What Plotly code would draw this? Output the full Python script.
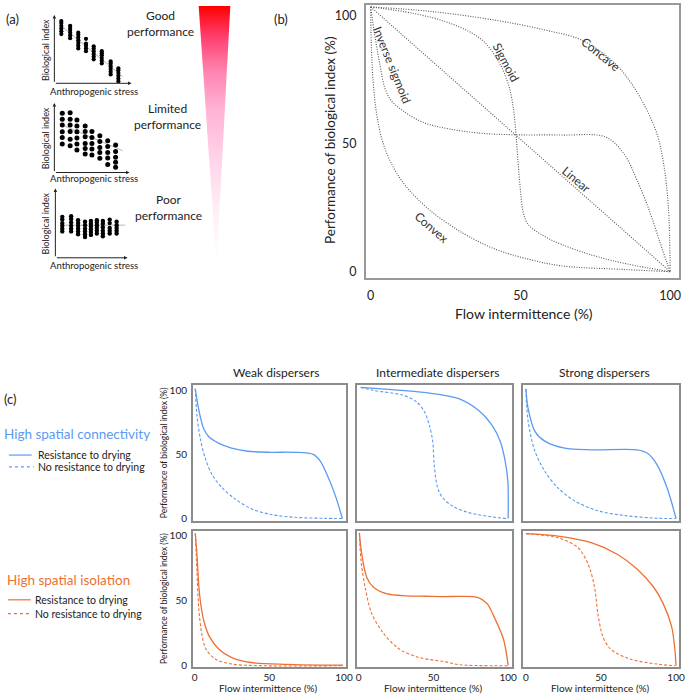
import plotly.graph_objects as go

W, H = 691, 698
FONT = "Lato, 'Open Sans', sans-serif"
BLUE = "#5b9bef"
ORANGE = "#ee7031"
GREY = "#555555"
FRAME = "#8c8c8c"

# ---------- (a) sketch scatter panels (axes units 0..1) ----------
good_cols = [0.09, 0.205, 0.31, 0.41, 0.51, 0.615, 0.73, 0.83]
good_vals = [
    [0.72, 0.76, 0.80, 0.84, 0.88, 0.91],
    [0.66, 0.70, 0.74, 0.78, 0.81, 0.84],
    [0.51, 0.55, 0.59, 0.63, 0.67, 0.71, 0.74],
    [0.47, 0.51, 0.55, 0.58, 0.65],
    [0.35, 0.39, 0.43, 0.47, 0.51, 0.54],
    [0.29, 0.33, 0.37, 0.41, 0.44, 0.47],
    [0.13, 0.17, 0.21, 0.25, 0.29, 0.32],
    [0.03, 0.07, 0.11, 0.15, 0.19, 0.22],
]
good_trend = ([0.09, 0.885], [0.84, 0.10])

limited_cols = [0.105, 0.21, 0.30, 0.41, 0.50, 0.605, 0.71, 0.815]
limited_vals = [
    [0.853, 0.767, 0.686, 0.586, 0.504, 0.41],
    [0.861, 0.767, 0.686, 0.59, 0.481, 0.386],
    [0.757, 0.671, 0.586, 0.496, 0.41, 0.324],
    [0.671, 0.59, 0.514, 0.419, 0.347, 0.267],
    [0.59, 0.504, 0.419, 0.339, 0.253],
    [0.529, 0.447, 0.361, 0.29, 0.204],
    [0.457, 0.376, 0.29, 0.21, 0.114],
    [0.396, 0.304, 0.219, 0.147, 0.076],
]
limited_trend = ([0.105, 0.91], [0.686, 0.314])

poor_cols = [0.096, 0.219, 0.315, 0.411, 0.493, 0.575, 0.658, 0.753, 0.849]
poor_vals = [
    [0.38, 0.42, 0.46, 0.50, 0.55, 0.59],
    [0.38, 0.42, 0.46, 0.51, 0.56, 0.60],
    [0.34, 0.38, 0.42, 0.46, 0.50, 0.54],
    [0.30, 0.34, 0.38, 0.42, 0.47, 0.52],
    [0.33, 0.37, 0.41, 0.45, 0.49, 0.53],
    [0.35, 0.39, 0.43, 0.47, 0.51, 0.54],
    [0.31, 0.35, 0.39, 0.44, 0.49, 0.53],
    [0.35, 0.39, 0.43, 0.50, 0.55],
    [0.35, 0.39, 0.43, 0.47, 0.52],
]
poor_trend = ([0.07, 0.97], [0.47, 0.47])

# gradient wedge
tri_x = [0.111, 0.822, 0.511, 0.111]
tri_y = [0.985, 0.985, 0.011, 0.985]
grad_scale = [[0, "#ffffff"], [0.2, "#fff0f7"], [0.4, "#ffd6ea"], [0.6, "#ffb3d6"],
              [0.75, "#ff85b0"], [0.88, "#ff4070"], [1, "#ff0000"]]

# ---------- (b) response shapes ----------
linear_x = [0, 100]
linear_y = [103.5, 0]
concave_x = [0, 19.6, 41.6, 58.1, 70.3, 80.2, 85.7, 91.2, 95.6, 97.8, 99.4, 100]
concave_y = [103.5, 101.8, 98.3, 94.5, 90.6, 82.9, 75.8, 65.5, 53.9, 42.3, 25.5, 0]
sigmoid_x = [0, 14.1, 25.1, 33.9, 38.3, 42.7, 46, 47.6, 48.5, 49.1, 49.9, 51, 52.6, 57, 63.6, 74.7, 85.6, 100]
sigmoid_y = [103.5, 101, 97.7, 93.2, 89.3, 82.2, 73.2, 64.2, 53.9, 44.8, 33.2, 22.9, 18.4, 14.5, 10.7, 6.2, 3, 0]
invsig_x = [0, 1.4, 3.1, 4.7, 6.9, 10.8, 17.4, 26.2, 37.2, 48.6, 63.7, 78.5, 84.6, 89, 93.4, 96.7, 98.9, 100]
invsig_y = [103.5, 92.3, 80.9, 71.9, 66.8, 62.9, 58.4, 55.8, 54.1, 53.5, 53.4, 52.6, 46, 35.6, 22.7, 11.1, 3.6, 0]
convex_x = [0, 0.3, 0.9, 2, 4.2, 7.5, 11.9, 19.6, 30.6, 41.6, 52.6, 63.6, 85.6, 100]
convex_y = [103.5, 86, 73.2, 61.6, 50, 41, 33.2, 24.2, 15.2, 8.8, 4.9, 2.3, 0.8, 0]

# ---------- (c) dispersal x connectivity ----------
weak_conn_res_x = [0.4, 2.6, 5.9, 9.3, 15.9, 24.7, 35.7, 51.1, 66.5, 79.7, 84.1, 88.5, 93, 96.3, 98.9]
weak_conn_res_y = [101.5, 85.9, 70.5, 64.1, 59, 55.1, 52.6, 51.8, 51.8, 50, 44.9, 34.6, 21.8, 10.3, 0]
weak_conn_nores_x = [0.4, 1.5, 3.7, 7, 11.5, 18.1, 26.9, 37.9, 51.1, 68.7, 86.3, 99.6]
weak_conn_nores_y = [101.5, 80.8, 62.8, 47.4, 34.6, 24.4, 15.4, 7.7, 3.1, 0.8, 0.2, 0]
inter_conn_res_x = [1.3, 20, 35, 45, 66.9, 80.1, 89.2, 94.7, 98, 99.8, 100]
inter_conn_res_y = [102.5, 101, 99.6, 98.4, 93.8, 84.7, 73.1, 60.4, 45, 29.5, 0]
inter_conn_nores_x = [1.3, 9.7, 29.6, 38.4, 43.9, 47.2, 49.5, 50.5, 52.8, 56.1, 62.7, 73.5, 89.2, 99.1]
inter_conn_nores_y = [102.5, 100.2, 96.4, 91.5, 83.7, 73.1, 60.4, 42.1, 24, 16.3, 9.8, 4.6, 1.3, 0]
strong_conn_res_x = [0, 1.5, 6.1, 12.6, 25.8, 43.3, 74.2, 81, 87.4, 94, 100]
strong_conn_res_y = [101.5, 86, 68, 60.5, 55, 53.7, 53.7, 51, 42, 24, 0]
strong_conn_nores_x = [0, 1.5, 6, 12.6, 21.3, 32.6, 48, 66, 88, 100]
strong_conn_nores_y = [101, 76, 52.7, 37, 24, 13.7, 6, 2.3, 0.2, 0]

weak_iso_res_x = [0.4, 1.5, 2.8, 4.3, 6.5, 9.7, 16.2, 24.8, 37.8, 61.6, 85.3, 99.4]
weak_iso_res_y = [102, 86, 60.8, 45.6, 32.9, 22.8, 12.7, 6.3, 2.5, 1, 0.5, 0.5]
weak_iso_nores_x = [0.4, 1.5, 2.8, 5, 7.6, 14, 24.8, 46.4, 99.4]
weak_iso_nores_y = [102, 73.4, 43, 22.8, 12.7, 5, 1.3, 0, 0]
inter_iso_res_x = [0.4, 2, 5.3, 9.7, 18.5, 31.8, 45, 58, 67, 80, 85.8, 91.4, 96.9, 100]
inter_iso_res_y = [102.3, 85.8, 68.2, 60.6, 55.5, 53.8, 53.5, 53.2, 53.4, 52.5, 48, 35.6, 20.4, 0.5]
inter_iso_nores_x = [0.4, 1.5, 4.2, 8.6, 16.3, 27.4, 40.6, 58, 67, 100]
inter_iso_nores_y = [102, 81, 60.6, 40.4, 25.3, 12.6, 6.3, 3, 0.8, 0]
strong_iso_res_x = [0, 21.5, 43.5, 60.8, 74, 85, 91.4, 97, 99, 100]
strong_iso_res_y = [101.7, 99.8, 94.7, 85.8, 74.5, 60.6, 48, 30.3, 15, 0]
strong_iso_nores_x = [0, 21.5, 34.7, 41.4, 45.7, 47.9, 51.2, 56.6, 69.8, 87.4, 99.5]
strong_iso_nores_y = [101.7, 98.5, 90.9, 78.3, 60.6, 40.4, 22.7, 12.6, 5, 1.3, 0]

col_titles = ["Weak dispersers", "Intermediate dispersers", "Strong dispersers"]
tick_vals = [0, 50, 100]


def xd(a, b):
    return [a / W, b / W]


def yd(top, bottom):
    return [1 - bottom / H, 1 - top / H]


def px(x, y):
    return x / W, 1 - y / H


fig = go.Figure()
layout_axes = {}


def ax_name(kind, i):
    return kind + "axis" + ("" if i == 1 else str(i))


def add_hidden(i, xdom, ydom, xr=(0, 1), yr=(0, 1)):
    layout_axes[ax_name("x", i)] = dict(domain=xdom, range=list(xr), visible=False, anchor="y" + str(i))
    layout_axes[ax_name("y", i)] = dict(domain=ydom, range=list(yr), visible=False, anchor="x" + str(i))


# (a) panels
panels_a = [
    (1, good_cols, good_vals, good_trend, xd(54, 132), yd(13, 82), 4.2),
    (2, limited_cols, limited_vals, limited_trend, xd(54, 130), yd(102, 172), 5),
    (3, poor_cols, poor_vals, poor_trend, xd(55, 128), yd(188, 258), 4.4),
]
annotations = []
for i, cols, vals, trend, xdom, ydom, size in panels_a:
    add_hidden(i, xdom, ydom)
    xa, ya = "x" + ("" if i == 1 else str(i)), "y" + ("" if i == 1 else str(i))
    fig.add_trace(go.Scatter(x=trend[0], y=trend[1], mode="lines", xaxis=xa, yaxis=ya,
                             line=dict(color="#b8b8b8", width=1), showlegend=False))
    xs, ys = [], []
    for c, v in zip(cols, vals):
        xs += [c] * len(v)
        ys += v
    fig.add_trace(go.Scatter(x=xs, y=ys, mode="markers", xaxis=xa, yaxis=ya,
                             marker=dict(color="black", size=size), showlegend=False))
    for tx, ty in [(1, 0), (0, 1)]:
        annotations.append(dict(x=tx, y=ty, ax=0, ay=0, xref=xa, yref=ya, axref=xa, ayref=ya,
                                text="", showarrow=True, arrowhead=2, arrowsize=0.7,
                                arrowwidth=1, arrowcolor="#222"))

# gradient wedge
add_hidden(4, xd(195, 240), yd(0, 270))
fig.add_trace(go.Scatter(x=tri_x, y=tri_y, xaxis="x4", yaxis="y4", mode="lines", fill="toself",
                         line=dict(width=0), fillgradient=dict(type="vertical", colorscale=grad_scale),
                         showlegend=False, hoverinfo="skip"))

# (b)
layout_axes["xaxis5"] = dict(domain=xd(369, 686), range=[-1.65, 102.97], anchor="y5",
                             tickvals=tick_vals, ticks="outside", ticklen=6, tickcolor="rgba(0,0,0,0)",
                             showline=True, mirror=True, linecolor="#999", linewidth=1.5,
                             showgrid=False, zeroline=False, tickfont=dict(size=12.5, color="#222"))
layout_axes["yaxis5"] = dict(domain=yd(3, 278), range=[-2.33, 104.26], anchor="x5",
                             tickvals=tick_vals, ticks="outside", ticklen=5, tickcolor="rgba(0,0,0,0)",
                             showline=True, mirror=True, linecolor="#999", linewidth=1.5,
                             showgrid=False, zeroline=False, tickfont=dict(size=12.5, color="#222"))
for cx, cy in [(linear_x, linear_y), (concave_x, concave_y), (sigmoid_x, sigmoid_y),
               (invsig_x, invsig_y), (convex_x, convex_y)]:
    fig.add_trace(go.Scatter(x=cx, y=cy, xaxis="x5", yaxis="y5", mode="lines", showlegend=False,
                             line=dict(color=GREY, width=1.1, dash="1px,1.5px", shape="spline", smoothing=1)))

# (c)
col_dom = [(194, 349), (360, 517), (528, 686)]
col_rng = [(-1.3, 101.3), (-1.3, 102.6), (-2, 102)]
row_dom = [(386.6, 523), (534, 671)]
row_rng = [(-1.55, 104.2), (-1.15, 103.4)]
series_c = [
    [(weak_conn_res_x, weak_conn_res_y, weak_conn_nores_x, weak_conn_nores_y),
     (inter_conn_res_x, inter_conn_res_y, inter_conn_nores_x, inter_conn_nores_y),
     (strong_conn_res_x, strong_conn_res_y, strong_conn_nores_x, strong_conn_nores_y)],
    [(weak_iso_res_x, weak_iso_res_y, weak_iso_nores_x, weak_iso_nores_y),
     (inter_iso_res_x, inter_iso_res_y, inter_iso_nores_x, inter_iso_nores_y),
     (strong_iso_res_x, strong_iso_res_y, strong_iso_nores_x, strong_iso_nores_y)],
]
row_colors = [BLUE, ORANGE]
k = 6
for r in range(2):
    for c in range(3):
        layout_axes["xaxis%d" % k] = dict(
            domain=xd(*col_dom[c]), range=list(col_rng[c]), anchor="y%d" % k,
            tickvals=tick_vals, showticklabels=(r == 1), ticks="",
            showline=True, mirror=True, linecolor=FRAME, linewidth=1.5,
            showgrid=False, zeroline=False, tickfont=dict(size=10, color="#222"))
        layout_axes["yaxis%d" % k] = dict(
            domain=yd(*row_dom[r]), range=list(row_rng[r]), anchor="x%d" % k,
            tickvals=tick_vals, showticklabels=(c == 0), ticks="outside", ticklen=2,
            tickcolor="rgba(0,0,0,0)", showline=True, mirror=True, linecolor=FRAME, linewidth=1.5,
            showgrid=False, zeroline=False, tickfont=dict(size=10, color="#222"))
        rx, ry, nx, ny = series_c[r][c]
        fig.add_trace(go.Scatter(x=rx, y=ry, xaxis="x%d" % k, yaxis="y%d" % k, mode="lines",
                                 showlegend=False,
                                 line=dict(color=row_colors[r], width=1.3, shape="spline", smoothing=0.9)))
        fig.add_trace(go.Scatter(x=nx, y=ny, xaxis="x%d" % k, yaxis="y%d" % k, mode="lines",
                                 showlegend=False,
                                 line=dict(color=row_colors[r], width=1.1, dash="3px,2px",
                                           shape="spline", smoothing=0.9)))
        k += 1


def text(x, y, s, size, color="#222", angle=0, xanchor="center"):
    X, Y = px(x, y)
    annotations.append(dict(x=X, y=Y, xref="paper", yref="paper", text=s, showarrow=False,
                            textangle=angle, xanchor=xanchor, yanchor="middle",
                            font=dict(size=size, color=color, family=FONT)))


# panel letters
text(12, 17, "(a)", 13)
text(283, 17, "(b)", 13)
text(10, 400, "(c)", 13)

# (a) texts
for yc in [48, 137, 223]:
    text(45, yc, "Biological index", 9, angle=-90)
for yc in [90, 178, 266]:
    text(94, yc, "Anthropogenic stress", 9.5)
text(161, 22, "Good<br>performance", 12)
text(168, 115, "Limited<br>performance", 12)
text(169, 207, "Poor<br>performance", 12)

# (b) texts
text(529, 314, "Flow intermittence (%)", 14)
text(333, 140, "Performance of biological index (%)", 13.5, angle=-90)
text(396, 64, "Inverse sigmoid", 12, "#333", 68)
text(511, 61, "Sigmoid", 12, "#333", 62)
text(607, 53, "Concave", 12, "#333", 39)
text(582, 179, "Linear", 12, "#333", 40)
text(436, 227, "Convex", 12, "#333", 41)

# (c) texts
for xc, t in zip([278, 442, 611], col_titles):
    text(xc, 374, t, 12)
for yc in [455, 602]:
    text(165, yc, "Performance of biological index (%)", 8.5, angle=-90)
for xc in [271, 438, 607]:
    text(xc, 692, "Flow intermittence (%)", 10)

text(77, 436, "High spatial connectivity", 13.5, BLUE)
text(35, 457, "Resistance to drying", 10.5, xanchor="left")
text(35, 469, "No resistance to drying", 10.5, xanchor="left")
text(68, 583, "High spatial isolation", 13.5, ORANGE)
text(32, 603, "Resistance to drying", 10.5, xanchor="left")
text(32, 617, "No resistance to drying", 10.5, xanchor="left")

shapes = []
for (x0, x1, y, col, dash) in [(8, 31, 457, BLUE, "solid"), (8, 33, 469, BLUE, "dot"),
                                (7, 30, 603, ORANGE, "solid"), (7, 31, 617, ORANGE, "dot")]:
    X0, Y = px(x0, y)
    X1, _ = px(x1, y)
    shapes.append(dict(type="line", xref="paper", yref="paper", x0=X0, x1=X1, y0=Y, y1=Y,
                       line=dict(color=col, width=1.2, dash=dash)))

fig.update_layout(
    width=W, height=H, margin=dict(l=0, r=0, t=0, b=0),
    paper_bgcolor="white", plot_bgcolor="white",
    font=dict(family=FONT, color="#222"),
    annotations=annotations, shapes=shapes, showlegend=False,
    **layout_axes,
)

fig.write_html("out.html", config={"displayModeBar": False},
               post_script="document.body.style.margin='0';")
